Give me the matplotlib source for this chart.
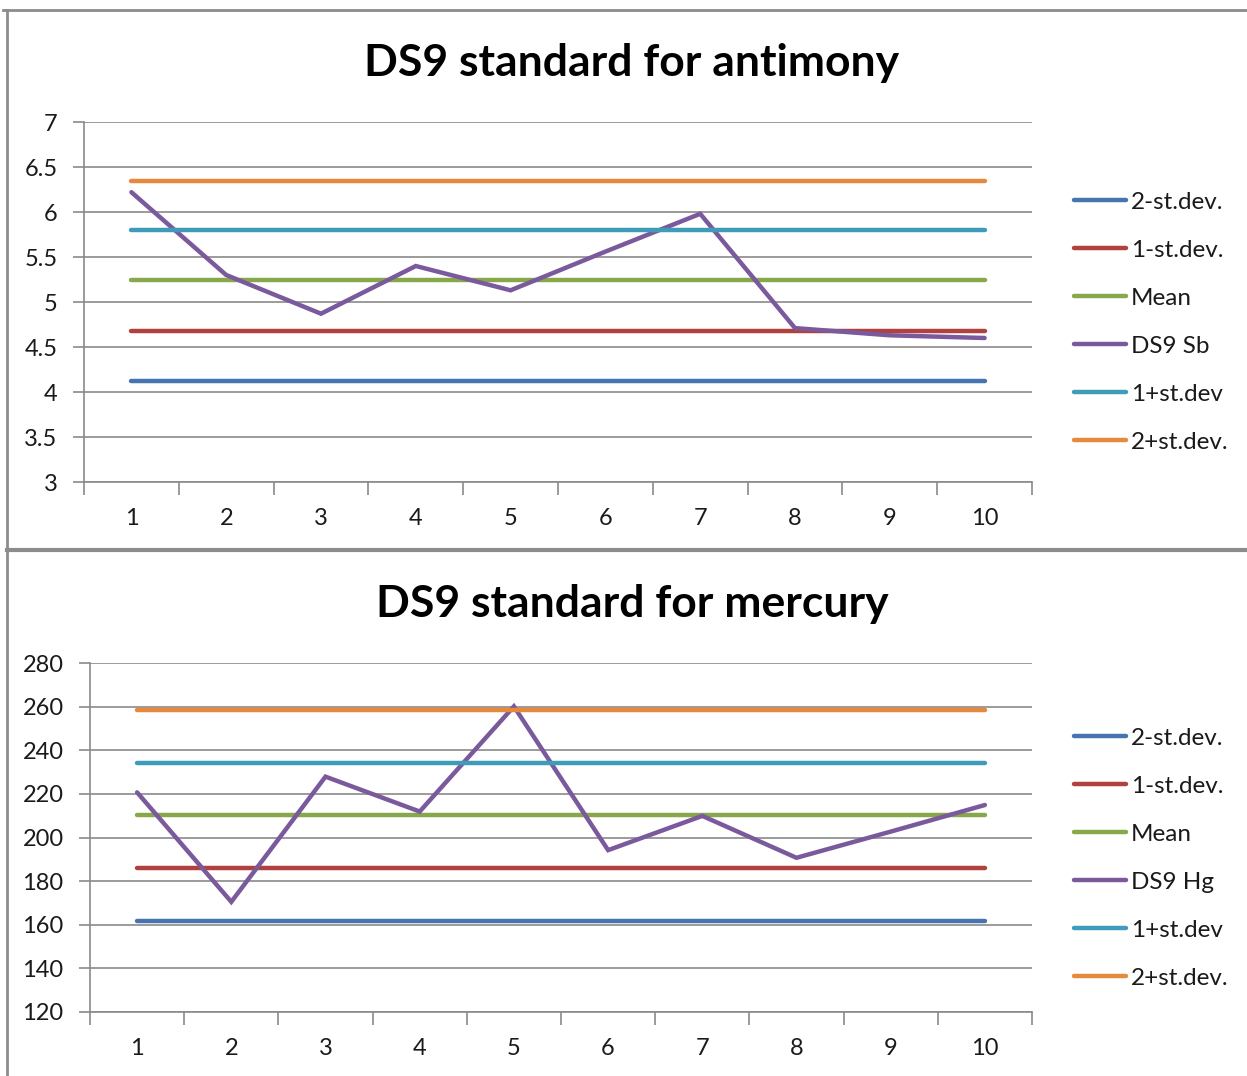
import matplotlib
matplotlib.use("Agg")
import matplotlib.pyplot as plt
from matplotlib.lines import Line2D
from matplotlib.ticker import FuncFormatter, MultipleLocator

plt.rcParams['font.family'] = ['Lato', 'DejaVu Sans']

samples = [1, 2, 3, 4, 5, 6, 7, 8, 9, 10]

# antimony (Sb)
sb_values = [6.22, 5.30, 4.87, 5.40, 5.13, 5.56, 5.98, 4.71, 4.63, 4.60]
sb_minus2 = 4.12
sb_minus1 = 4.68
sb_mean = 5.24
sb_plus1 = 5.80
sb_plus2 = 6.35

# mercury (Hg)
hg_values = [220.7, 170.5, 227.9, 211.9, 260.1, 194.2, 209.9, 190.7, 202.7, 214.9]
hg_minus2 = 161.9
hg_minus1 = 186.0
hg_mean = 210.2
hg_plus1 = 234.2
hg_plus2 = 258.6

labels_sb = ['2-st.dev.', '1-st.dev.', 'Mean', 'DS9 Sb', '1+st.dev', '2+st.dev.']
labels_hg = ['2-st.dev.', '1-st.dev.', 'Mean', 'DS9 Hg', '1+st.dev', '2+st.dev.']
colors = ['#4674AE', '#B0413E', '#87A74B', '#7A5A9C', '#3F9CB8', '#E58A3C']

W, H = 1247, 1076
fig = plt.figure(figsize=(W / 100, H / 100), dpi=100)

grid_c = '#8a8a8a'
text_c = '#1a1a1a'


def fy(y):
    return 1 - y / H


def draw_panel(rect, values, levels, labels, ylim, ystep, legend_top):
    ax = fig.add_axes(rect)
    series = [levels[0], levels[1], levels[2], values, levels[3], levels[4]]
    for s, lab, c in zip(series, labels, colors):
        if not isinstance(s, list):
            s = [s] * len(samples)
        ax.plot(samples, s, color=c, lw=3.2, label=lab,
                solid_capstyle='round', solid_joinstyle='miter')
    ax.set_xlim(0.5, 10.5)
    ax.set_ylim(*ylim)
    ax.yaxis.set_major_locator(MultipleLocator(ystep))
    ax.yaxis.set_major_formatter(FuncFormatter(lambda v, p: '%g' % v))
    ax.grid(axis='y', color=grid_c, lw=1.2)
    ax.set_axisbelow(True)
    ax.set_xticks([i + 0.5 for i in range(0, 11)])
    ax.set_xticklabels([])
    ax.set_xticks(samples, minor=True)
    ax.set_xticklabels([str(s) for s in samples], minor=True)
    ax.tick_params(axis='x', which='major', length=9, width=1.2, color=grid_c)
    ax.tick_params(axis='x', which='minor', length=0, pad=19, labelsize=17, labelcolor=text_c)
    ax.tick_params(axis='y', length=8, width=1.2, color=grid_c, pad=11, labelsize=17, labelcolor=text_c)
    for sp in ['top', 'right']:
        ax.spines[sp].set_visible(False)
    for sp in ['left', 'bottom']:
        ax.spines[sp].set_color(grid_c)
        ax.spines[sp].set_linewidth(1.2)
    ax.legend(loc='upper left', bbox_to_anchor=(1064 / W, legend_top),
              bbox_transform=fig.transFigure, frameon=False, fontsize=17.5,
              handlelength=2.15, handletextpad=0.2, labelspacing=1.11,
              labelcolor=text_c, borderaxespad=0)
    return ax


draw_panel([84 / W, fy(482), (1032 - 84) / W, (482 - 122) / H],
           sb_values, [sb_minus2, sb_minus1, sb_mean, sb_plus1, sb_plus2],
           labels_sb, (3, 7), 0.5, fy(182))
draw_panel([90 / W, fy(1012), (1032 - 90) / W, (1012 - 663) / H],
           hg_values, [hg_minus2, hg_minus1, hg_mean, hg_plus1, hg_plus2],
           labels_hg, (120, 280), 20, fy(718))

fig.text(632 / W, fy(63), 'DS9 standard for antimony', ha='center', va='center',
         fontsize=32, fontweight='bold', color='black')
fig.text(632 / W, fy(604), 'DS9 standard for mercury', ha='center', va='center',
         fontsize=32, fontweight='bold', color='black')

# panel borders
border_c = '#8c8c8c'
fig.add_artist(Line2D([3 / W, 1], [fy(10), fy(10)], color=border_c, lw=2))
fig.add_artist(Line2D([7 / W, 7 / W], [fy(10), 0], color=border_c, lw=2))
fig.add_artist(Line2D([7 / W, 1], [fy(550), fy(550)], color=border_c, lw=3))

fig.savefig('out.png', dpi=100)
